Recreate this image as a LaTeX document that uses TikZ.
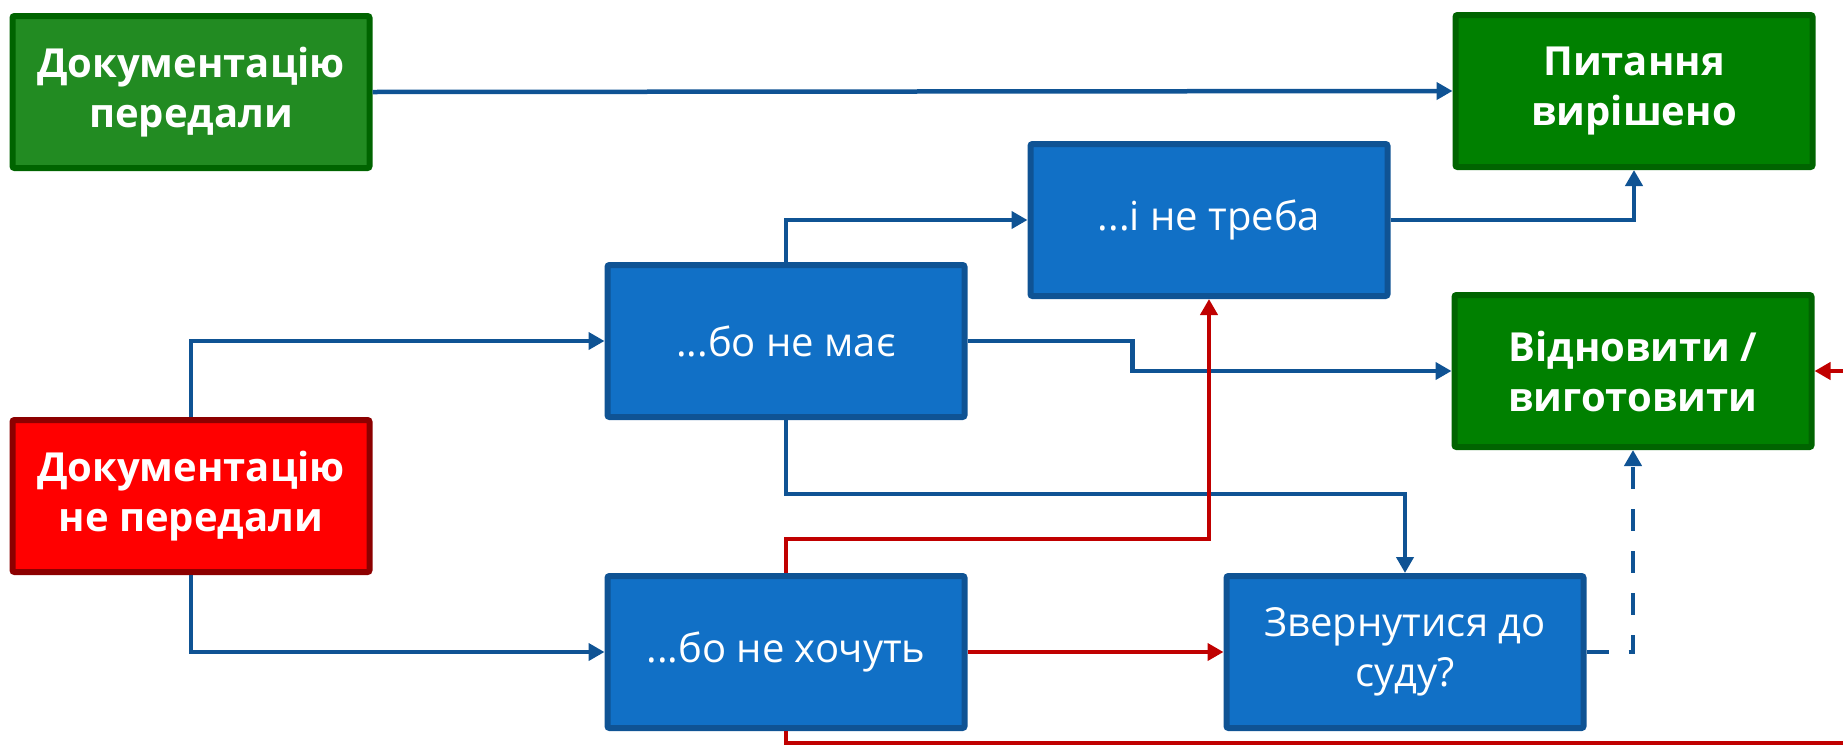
\documentclass[tikz,border=0pt]{standalone}
\usepackage{fontspec}
\setmainfont{Open Sans}
\usepackage{tikz}
\usetikzlibrary{arrows.meta, positioning, calc}
\usepackage{xcolor}

\definecolor{boxblue}{HTML}{1170C6}
\definecolor{edgeblue}{HTML}{0F5394}
\definecolor{linkred}{HTML}{C00000}
\definecolor{okgreen}{HTML}{008000}
\definecolor{okgreenedge}{HTML}{006400}
\definecolor{docgreen}{HTML}{228B22}
\definecolor{alarmedge}{HTML}{8C0000}

\begin{document}
\begin{tikzpicture}[x=1pt, y=-1pt,
    card/.style={rectangle, rounded corners=2pt, line width=6pt,
      minimum width=357pt, minimum height=152pt, align=center,
      text=white, font=\fontsize{40}{50}\selectfont},
    strong/.style={card, font=\fontsize{40}{50}\selectfont\bfseries},
    link/.style={line width=4.5pt, color=edgeblue,
      -{Triangle[length=16pt, width=17pt]}},
    redlink/.style={link, color=linkred}]
  \clip (0,0) rectangle (1843,745);

  % outcomes on the left
  \node[strong, fill=docgreen, draw=okgreenedge] (done) at (191,92) {Документацію\\передали};
  \node[strong, fill=red, draw=alarmedge] (notdone) at (191,496) {Документацію\\не передали};

  % reasons
  \node[card, fill=boxblue, draw=edgeblue] (nohave) at (786,341) {...бо не має};
  \node[card, fill=boxblue, draw=edgeblue] (nowant) at (786,652) {...бо не хочуть};
  \node[card, fill=boxblue, draw=edgeblue] (noneed) at (1209,220) {...і не треба};
  \node[card, fill=boxblue, draw=edgeblue] (court) at (1405,652) {Звернутися до\\суду?};

  % results on the right
  \node[strong, fill=okgreen, draw=okgreenedge] (solved) at (1634,91) {Питання\\вирішено};
  \node[strong, fill=okgreen, draw=okgreenedge] (restore) at (1633,371) {Відновити /\\виготовити};

  % blue connectors
  \draw[link] (done.east) -- (solved.west);
  \draw[link] (noneed.east) -| (solved.south);
  \draw[link] (nohave.north) |- (noneed.west);
  \draw[link] (nohave.east) -- ++(165,0) |- (restore.west);
  \draw[link] (nohave.south) -- ++(0,74) -| (court.north);
  \draw[link] (notdone.north) |- (nohave.west);
  \draw[link] (notdone.south) |- (nowant.west);
  \draw[link, dash pattern=on 22pt off 20pt] (court.east) -| (restore.south);

  % red connectors
  \draw[redlink] (nowant.north) -- ++(0,-34) -| (noneed.south);
  \draw[redlink] (nowant.east) -- (court.west);
  \draw[redlink] (nowant.south) -- ++(0,12) -| ([xshift=80pt]restore.east) -- (restore.east);
\end{tikzpicture}
\end{document}
